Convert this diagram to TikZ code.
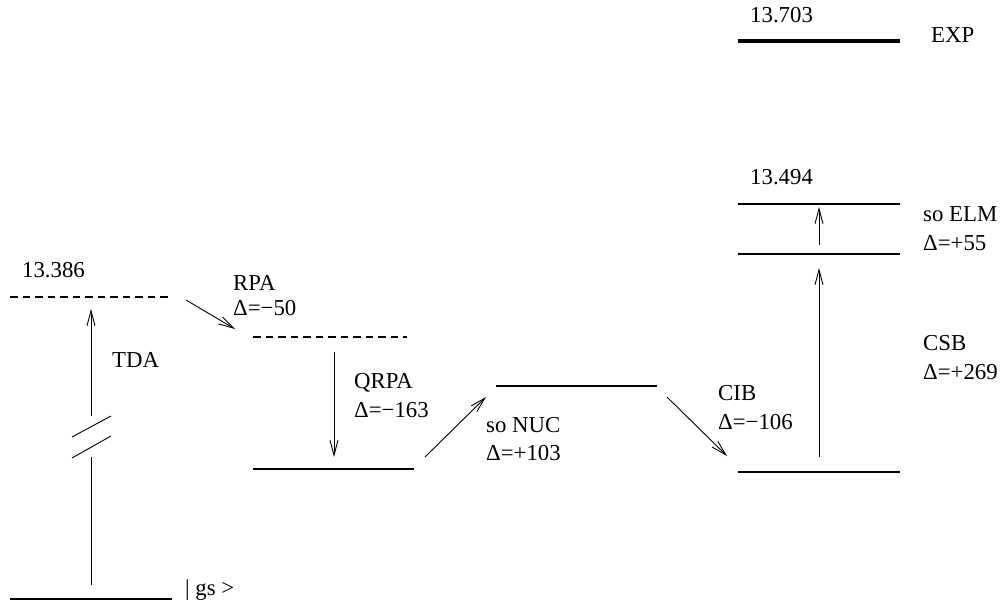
\documentclass[tikz,border=0pt]{standalone}
\usepackage{fontspec}
\setmainfont{Liberation Serif}
\usetikzlibrary{arrows.meta}
\begin{document}
\begin{tikzpicture}[x=1pt,y=-1pt,
  lbl/.style={anchor=base west,inner sep=0pt,font=\fontsize{22.8}{27}\selectfont},
  lev/.style={line width=2pt},
  dlev/.style={line width=1.7pt,dash pattern=on 7.5pt off 5pt},
  explev/.style={line width=4pt},
  arr/.style={line width=0.9pt,-{Straight Barb[length=15pt,width=8pt,line width=0.9pt]}},
  thin/.style={line width=0.9pt}]
\useasboundingbox (0,0) rectangle (1005,607);
% levels
\coordinate (gsL) at (10,599); \coordinate (gsR) at (172,599);
\coordinate (tdaL) at (10,297); \coordinate (tdaR) at (172,297);
\coordinate (rpaL) at (253,337); \coordinate (rpaR) at (407,337);
\coordinate (qrpaL) at (253,469); \coordinate (qrpaR) at (414,469);
\coordinate (nucL) at (496,386); \coordinate (nucR) at (657,386);
\coordinate (cibL) at (738,472); \coordinate (cibR) at (900,472);
\coordinate (csbL) at (738,254); \coordinate (csbR) at (900,254);
\coordinate (elmL) at (738,204); \coordinate (elmR) at (900,204);
\coordinate (expL) at (738,41); \coordinate (expR) at (900,41);
\draw[lev] (gsL) -- (gsR);
\draw[dlev] (tdaL) -- (tdaR);
\draw[dlev] (rpaL) -- (rpaR);
\draw[lev] (qrpaL) -- (qrpaR);
\draw[lev] (nucL) -- (nucR);
\draw[lev] (cibL) -- (cibR);
\draw[lev] (csbL) -- (csbR);
\draw[lev] (elmL) -- (elmR);
\draw[explev] (expL) -- (expR);
% TDA arrow with break
\coordinate (tdaA) at (91,585); \coordinate (tdaB) at (91,457);
\coordinate (tdaC) at (91,416); \coordinate (tdaD) at (91,309);
\draw[thin] (tdaA) -- (tdaB);
\draw[arr] (tdaC) -- (tdaD);
\coordinate (brA1) at (72,437); \coordinate (brA2) at (111,416);
\coordinate (brB1) at (72,458); \coordinate (brB2) at (111,436);
\draw[thin] (brA1) -- (brA2);
\draw[thin] (brB1) -- (brB2);
% other arrows
\coordinate (rpaA) at (186,300); \coordinate (rpaB) at (235,329);
\draw[arr] (rpaA) -- (rpaB);
\coordinate (qrA) at (334,352); \coordinate (qrB) at (334,457);
\draw[arr] (qrA) -- (qrB);
\coordinate (nuA) at (425,457); \coordinate (nuB) at (486,397);
\draw[arr] (nuA) -- (nuB);
\coordinate (ciA) at (667,397); \coordinate (ciB) at (727,456);
\draw[arr] (ciA) -- (ciB);
\coordinate (csA) at (819,457); \coordinate (csB) at (819,268);
\draw[arr] (csA) -- (csB);
\coordinate (elA) at (819,245); \coordinate (elB) at (819,207);
\draw[arr] (elA) -- (elB);
% labels
\node[lbl] (t1) at (22,277) {13.386};
\node[lbl] (t2) at (112,367) {TDA};
\node[lbl] (t3) at (185,595) {| gs >};
\node[lbl] (t4) at (233,290) {RPA};
\node[lbl] (t5) at (233,315) {Δ=−50};
\node[lbl] (t6) at (354,388) {QRPA};
\node[lbl] (t7) at (354,417) {Δ=−163};
\node[lbl] (t8) at (486,432) {so NUC};
\node[lbl] (t9) at (486,460) {Δ=+103};
\node[lbl] (t10) at (718,400) {CIB};
\node[lbl] (t11) at (718,429) {Δ=−106};
\node[lbl] (t12) at (923,350) {CSB};
\node[lbl] (t13) at (923,379) {Δ=+269};
\node[lbl] (t14) at (750,185) {13.494};
\node[lbl] (t15) at (923,222) {so ELM};
\node[lbl] (t16) at (923,251) {Δ=+55};
\node[lbl] (t17) at (750,23) {13.703};
\node[lbl] (t18) at (931,43) {EXP};
\end{tikzpicture}
\end{document}
